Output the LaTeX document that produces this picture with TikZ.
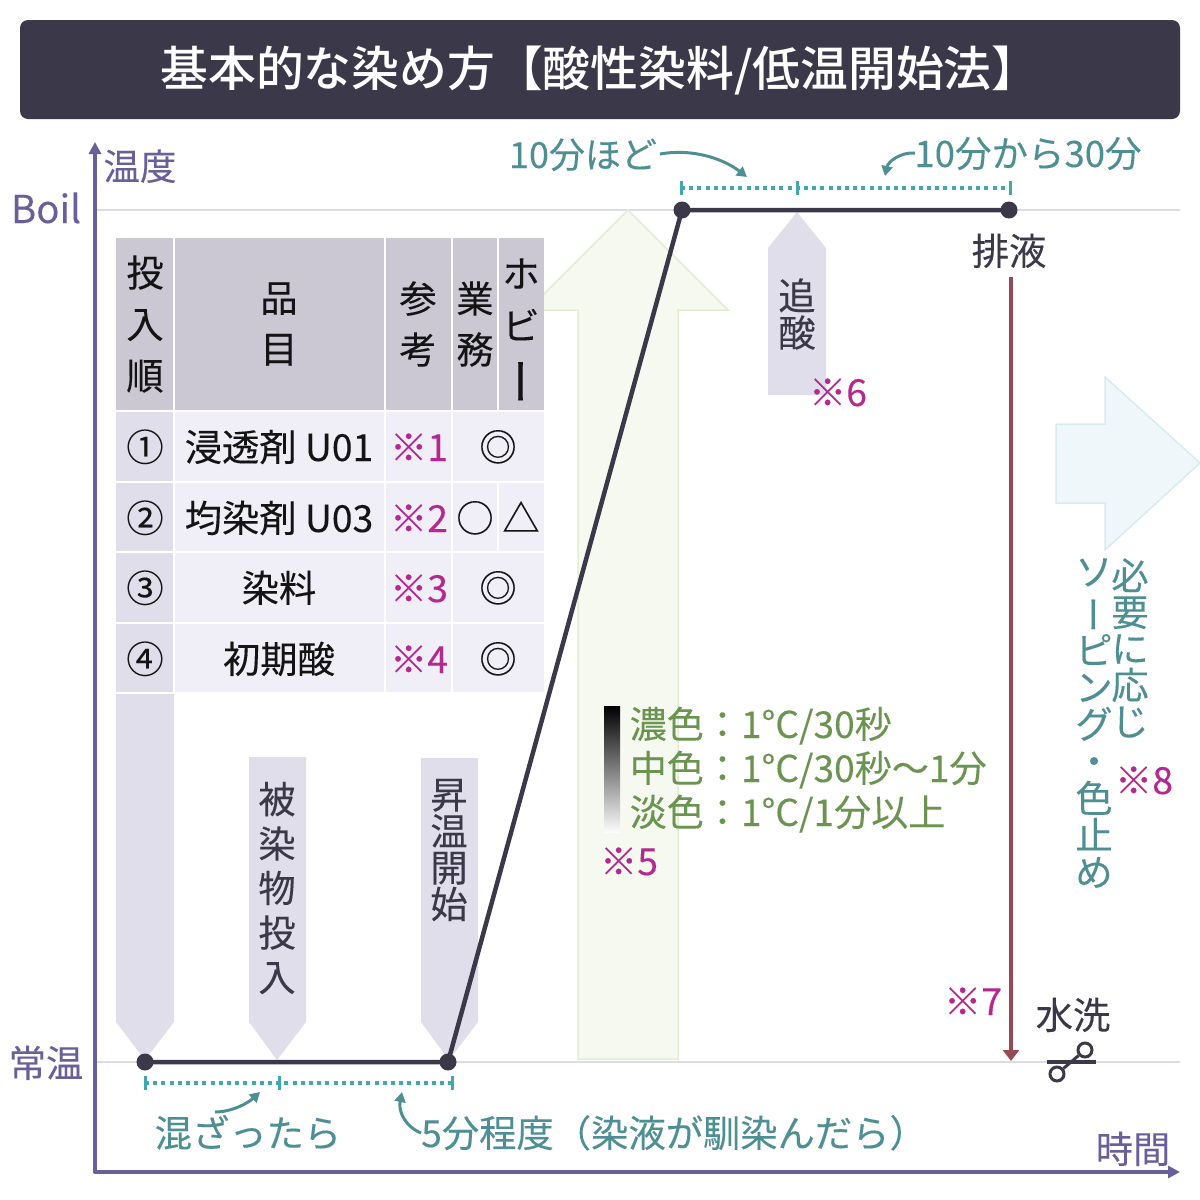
\documentclass[tikz,border=0pt]{standalone}
\usepackage{fontspec}
\usepackage{graphicx}
\setmainfont[FakeBold=0.15]{Noto Sans CJK JP}
\newfontfamily\titlefont{Noto Sans CJK JP Medium}
\usetikzlibrary{arrows.meta,calc}
\definecolor{ink}{HTML}{3B3849}
\definecolor{axisc}{HTML}{6B5F9A}
\definecolor{gridc}{HTML}{DDDBE5}
\definecolor{headc}{HTML}{CBC8D4}
\definecolor{sidec}{HTML}{E1DEEB}
\definecolor{cellc}{HTML}{F0EEF6}
\definecolor{teal1}{HTML}{3FA9AD}
\definecolor{teal2}{HTML}{4E8F94}
\definecolor{magc}{HTML}{B5288F}
\definecolor{greenc}{HTML}{6A9450}
\definecolor{gfill}{HTML}{F5F9F0}
\definecolor{gline}{HTML}{E2EDD3}
\definecolor{bfill}{HTML}{EFF7FA}
\definecolor{bline}{HTML}{D8EBEF}
\definecolor{redc}{HTML}{964A54}
\newcommand{\fs}[2]{\fontsize{#1}{#2}\selectfont}
\newcommand{\vbar}{\rotatebox[origin=c]{-90}{ー}}
\tikzset{
  tx/.style={inner sep=0pt,font=\fs{37.3}{42},text height=32pt,text depth=4pt},
  tb/.style={tx,text=black!92},
  vt/.style={inner sep=0pt,align=center},
  note/.style={tx,text=magc},
  lab/.style={tx,text=axisc},
  te/.style={tx,text=teal2},
  gr/.style={tx,text=greenc,anchor=west,font=\fs{37.1}{42}},
  dk/.style={tx,text=ink},
  hd/.style={fill=headc},
  sd/.style={fill=sidec},
  ce/.style={fill=cellc},
  cur/.style={teal2,line width=3pt,-{Triangle[length=10pt,width=11pt]}},
  dots/.style={teal1,line width=4pt,dash pattern=on 4pt off 4.2pt},
  tick/.style={teal1,line width=3pt},
  grid/.style={gridc,line width=2pt},
  axis/.style={axisc,line width=3.5pt,line cap=round},
  temp/.style={ink,line width=4.5pt},
  dot/.style={circle,fill=ink,inner sep=0pt,minimum size=17pt},
}
\begin{document}
\begin{tikzpicture}[x=1pt,y=-1pt]
\useasboundingbox (0,0) rectangle (1200,1200);
% title
\fill[ink,rounded corners=8pt] (20,20) rectangle (1180,119);
\node[inner sep=0pt,text=white,font=\titlefont\fs{47.8}{54}] (title) at (600,71) {基本的な染め方【酸性染料/低温開始法】};
% grid
\coordinate (g1a) at (95,210); \coordinate (g1b) at (1180,210);
\coordinate (g2a) at (95,1062); \coordinate (g2b) at (1180,1062);
\draw[grid] (g1a) -- (g1b);
\draw[grid] (g2a) -- (g2b);
% big arrows
\draw[gline,fill=gfill,line width=1.5pt] (628,210) -- (728,310) -- (678,310) -- (678,1059) -- (578,1059) -- (578,310) -- (528,310) -- cycle;
\draw[bline,fill=bfill,line width=1.5pt] (1200,463) -- (1105,550) -- (1105,503) -- (1056,503) -- (1056,424) -- (1105,424) -- (1105,377) -- cycle;
% axes
\coordinate (o) at (95,1172); \coordinate (yt) at (95,142); \coordinate (xt) at (1180,1172);
\draw[axis,-{Triangle[length=12pt,width=12pt]}] (o) -- (yt);
\draw[axis,-{Triangle[length=12pt,width=12pt]}] (o) -- (xt);
\node[lab,font=\fs{36.5}{42}] (wd) at (140,166) {温度};
\node[lab,font=\fs{38.5}{42}] (boil) at (46,209) {Boil};
\node[lab] (jo) at (46,1063) {常温};
\node[lab] (jk) at (1133,1149) {時間};
% table
\fill[hd] (116,238) rectangle (173,410);
\fill[hd] (175,238) rectangle (384,410);
\fill[hd] (386,238) rectangle (451,410);
\fill[hd] (453,238) rectangle (497,410);
\fill[hd] (499,238) rectangle (544,410);
\foreach \a/\b in {412/481,483/551,553/622,624/692}{
  \fill[sd] (116,\a) rectangle (173,\b);
  \fill[ce] (175,\a) rectangle (384,\b);
  \fill[ce] (386,\a) rectangle (451,\b);
}
\fill[ce] (453,412) rectangle (544,481);
\fill[ce] (453,483) rectangle (497,551);
\fill[ce] (499,483) rectangle (544,551);
\fill[ce] (453,553) rectangle (544,622);
\fill[ce] (453,624) rectangle (544,692);
\node[vt,text=black!92,font=\fs{37.3}{51.5}] (h1) at (145,324) {投\\入\\順};
\node[vt,text=black!92,font=\fs{37.3}{51}] (h2) at (279,324) {品\\目};
\node[vt,text=black!92,font=\fs{37.3}{51}] (h3) at (418,324) {参\\考};
\node[vt,text=black!92,font=\fs{37.3}{51}] (h4) at (475,324) {業\\務};
\node[vt,text=black!92,font=\fs{37.3}{52}] (h5) at (521,325) {ホ\\ビ\\\hspace*{-17pt}\smash{\fs{48}{52}\vbar}};
\node[tb] (n1) at (145,447) {①};
\node[tb] (n2) at (145,518) {②};
\node[tb] (n3) at (145,588) {③};
\node[tb] (n4) at (145,659) {④};
\node[tb] (i1) at (279,447) {浸透剤 U01};
\node[tb] (i2) at (279,518) {均染剤 U03};
\node[tb] (i3) at (279,588) {染料};
\node[tb] (i4) at (279,659) {初期酸};
\node[note] (r1) at (419,447) {※1};
\node[note] (r2) at (419,518) {※2};
\node[note] (r3) at (419,588) {※3};
\node[note] (r4) at (419,659) {※4};
\node[tb] (m1) at (498,447) {◎};
\node[tb] (m2) at (475,518) {○};
\node[tb] (m3) at (521,518) {△};
\node[tb] (m4) at (498,588) {◎};
\node[tb] (m5) at (498,659) {◎};
% pointer arrows
\fill[sidec] (116,694) -- (174,694) -- (174,1022) -- (145,1060) -- (116,1022) -- cycle;
\fill[sidec] (249,757) -- (306,757) -- (306,1022) -- (277,1060) -- (249,1022) -- cycle;
\fill[sidec] (421,758) -- (478,758) -- (478,1022) -- (449,1060) -- (421,1022) -- cycle;
\fill[sidec] (768,395) -- (826,395) -- (826,248) -- (797,212) -- (768,248) -- cycle;
\node[vt,text=ink,font=\fs{37.3}{44.5}] (p1) at (277,888) {被\\染\\物\\投\\入};
\node[vt,text=ink,font=\fs{37.3}{36.5}] (p2) at (449,850) {昇\\温\\開\\始};
\node[vt,text=ink,font=\fs{37.3}{37}] (p3) at (797,314) {追\\酸};
\node[note] (r6) at (838,392) {※6};
% temperature line
\node[dot] (d1) at (145,1062) {};
\node[dot] (d2) at (448,1062) {};
\node[dot] (d3) at (682,210) {};
\node[dot] (d4) at (1009,210) {};
\draw[temp] (d1.center) -- (d2.center) -- (d3.center) -- (d4.center);
\node[dk] (drain) at (1009,251) {排液};
% brackets
\coordinate (u1) at (681,188); \coordinate (u2) at (797,188); \coordinate (u3) at (1010,188);
\draw[dots] (u1) -- (u3);
\foreach \p in {u1,u2,u3}{\draw[tick] ($(\p)+(0,-7)$) -- ($(\p)+(0,7)$);}
\coordinate (l1) at (145,1083); \coordinate (l2) at (279,1083); \coordinate (l3) at (452,1083);
\draw[dots] (l1) -- (l3);
\foreach \p in {l1,l2,l3}{\draw[tick] ($(\p)+(0,-7)$) -- ($(\p)+(0,7)$);}
% teal labels
\node[te,font=\fs{36}{42}] (t1) at (583,154) {10分ほど};
\node[te,font=\fs{36.5}{42}] (t2) at (1028,153) {10分から30分};
\node[te] (t3) at (248,1133) {混ざったら};
\node[te,anchor=west] (t4) at (421,1133) {5分程度（染液が馴染んだら）};
\coordinate (a1) at (660,154); \coordinate (a1e) at (747,177);
\draw[cur] (a1) .. controls (695,148) and (725,160) .. (a1e);
\coordinate (a2) at (915,153); \coordinate (a2e) at (885,176);
\draw[cur] (a2) .. controls (900,152) and (888,162) .. (a2e);
\coordinate (a3) at (215,1112); \coordinate (a3e) at (260,1092);
\draw[cur] (a3) .. controls (232,1112) and (248,1103) .. (a3e);
\coordinate (a4) at (421,1133); \coordinate (a4e) at (402,1092);
\draw[cur] (a4) .. controls (406,1127) and (398,1112) .. (a4e);
% legend
\shade[top color=black,bottom color=white!90!sidec] (604,706) rectangle (620,832);
\node[gr] (c1) at (629.5,724) {濃色：1°C/30秒};
\node[gr] (c2) at (629.5,768) {中色：1°C/30秒～1分};
\node[gr] (c3) at (629.5,812) {淡色：1°C/1分以上};
\node[note] (r5) at (629,861) {※5};
% drain arrow
\coordinate (rt) at (1011,277); \coordinate (rb) at (1011,1061);
\draw[redc,line width=3.5pt,-{Triangle[length=11pt,width=16pt]}] (rt) -- (rb);
\node[note] (r7) at (973,1001) {※7};
\node[dk] (wash) at (1073,1015) {水洗};
% scissor symbol
\coordinate (s1) at (1047,1062); \coordinate (s2) at (1096,1062);
\draw[ink,line width=3.5pt] (s1) -- (s2);
\node[circle,draw=ink,fill=white,line width=3pt,inner sep=0pt,minimum size=14pt] (c5) at (1085,1050) {};
\node[circle,draw=ink,fill=white,line width=3pt,inner sep=0pt,minimum size=14pt] (c6) at (1057,1074) {};
\draw[ink,line width=3pt] (c5) -- (c6);
% right vertical text
\node[vt,text=teal2,font=\fs{37.3}{36.5}] (v1) at (1130,648) {必\\要\\に\\応\\じ};
\node[vt,text=teal2,font=\fs{37.3}{37}] (v2) at (1094,723) {ソ\\\hspace*{-14pt}\vbar\\ピ\\ン\\グ\\・\\色\\止\\め};
\node[note] (r8) at (1144,780) {※8};
\end{tikzpicture}
\end{document}
